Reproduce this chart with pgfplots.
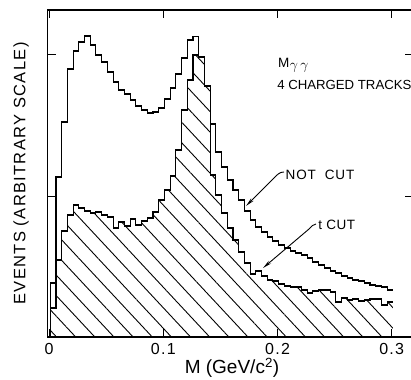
\documentclass[border=0pt]{standalone}
\usepackage{pgfplots}
\pgfplotsset{compat=1.18}
\usepackage{fontspec}
\setmainfont{Liberation Sans}
\usetikzlibrary{patterns.meta,arrows.meta}

\begin{document}
\begin{tikzpicture}
\begin{axis}[
  at={(47.5pt,42pt)}, anchor=south west,
  scale only axis, width=365pt, height=327pt,
  xmin=-0.0014, xmax=0.3182, ymin=0, ymax=327,
  axis line style={line width=1.6pt},
  tick align=inside, major tick length=8pt,
  tick style={line width=1pt, black},
  xtick={0,0.1,0.2,0.3}, xticklabels={0,0.1,0.2,0.3},
  ytick={140,282}, yticklabels={},
  xticklabel style={anchor=base, yshift=-17pt,
    font=\fontsize{16}{18}\selectfont\addfontfeatures{LetterSpace=8}},
  xlabel={M (GeV/c\textsuperscript{2})},
  xlabel style={at={(axis description cs:0.5055,-0.1116)}, anchor=base,
    font=\fontsize{19}{21}\selectfont},
  ylabel={EVENTS (ARBITRARY SCALE)},
  ylabel style={at={(axis description cs:-0.0726,0.5)}, anchor=center,
    font=\fontsize{16.5}{18}\selectfont\addfontfeatures{LetterSpace=8}},
  clip=false,
]
% hatched area under t CUT
\addplot[const plot, draw=none,
  pattern={Lines[angle=-47,distance=14pt,line width=0.9pt]}, pattern color=black]
coordinates {
(0.001,29) (0.006,77) (0.011,106) (0.016,122) (0.021,132) (0.026,129) (0.031,126)
(0.036,124) (0.041,125) (0.046,122) (0.051,120) (0.056,109) (0.061,115) (0.066,111)
(0.071,118) (0.076,112) (0.081,116) (0.086,119) (0.091,125) (0.096,137) (0.101,147)
(0.106,161) (0.111,187) (0.116,227) (0.121,257) (0.126,282) (0.131,280) (0.136,251)
(0.141,162) (0.146,142) (0.151,124) (0.156,109) (0.161,97) (0.166,85) (0.171,74)
(0.176,63) (0.181,66) (0.186,61) (0.191,57) (0.196,56) (0.201,53) (0.206,51)
(0.211,50) (0.216,50) (0.221,47) (0.226,44) (0.231,46) (0.236,47) (0.241,47)
(0.246,45) (0.251,35) (0.256,39) (0.261,37) (0.266,38) (0.271,36) (0.276,37)
(0.281,38) (0.286,38) (0.291,32) (0.296,35) (0.301,35)
} \closedcycle;
% t CUT outline
\addplot[const plot, line width=1.1pt, black]
coordinates {
(0.001,0)
(0.001,29) (0.006,77) (0.011,106) (0.016,122) (0.021,132) (0.026,129) (0.031,126)
(0.036,124) (0.041,125) (0.046,122) (0.051,120) (0.056,109) (0.061,115) (0.066,111)
(0.071,118) (0.076,112) (0.081,116) (0.086,119) (0.091,125) (0.096,137) (0.101,147)
(0.106,161) (0.111,187) (0.116,227) (0.121,257) (0.126,282) (0.131,280) (0.136,251)
(0.141,162) (0.146,142) (0.151,124) (0.156,109) (0.161,97) (0.166,85) (0.171,74)
(0.176,63) (0.181,66) (0.186,61) (0.191,57) (0.196,56) (0.201,53) (0.206,51)
(0.211,50) (0.216,50) (0.221,47) (0.226,44) (0.231,46) (0.236,47) (0.241,47)
(0.246,45) (0.251,35) (0.256,39) (0.261,37) (0.266,38) (0.271,36) (0.276,37)
(0.281,38) (0.286,38) (0.291,32) (0.296,35) (0.301,35)
};
% NOT CUT
\addplot[const plot, line width=1.1pt, black]
coordinates {
(0.001,0)
(0.001,54) (0.006,160) (0.011,215) (0.016,268) (0.021,286) (0.026,295) (0.031,301)
(0.036,292) (0.041,282) (0.046,275) (0.051,265) (0.056,255) (0.061,247) (0.066,243)
(0.071,237) (0.076,231) (0.081,227) (0.086,224) (0.091,225) (0.096,229) (0.101,238)
(0.106,249) (0.111,263) (0.116,279) (0.121,297) (0.126,300.5) (0.131,280) (0.136,251)
(0.141,213) (0.146,185) (0.151,170) (0.156,157) (0.161,147) (0.166,137) (0.171,126)
(0.176,117) (0.181,110) (0.186,105) (0.191,100) (0.196,96) (0.201,92) (0.206,89)
(0.211,86) (0.216,84) (0.221,82) (0.226,79) (0.231,75) (0.236,72) (0.241,69)
(0.246,66) (0.251,64) (0.256,61) (0.261,59) (0.266,57) (0.271,56) (0.276,54)
(0.281,52) (0.286,51) (0.291,50) (0.296,47) (0.301,47)
};
% annotations
\node[anchor=base west, font=\fontsize{13.5}{15}\selectfont, inner sep=0pt]
  at (axis cs:0.2004,269) {M\kern0.5pt\raisebox{-1.5pt}{$\gamma\,\gamma$}};
\node[anchor=base west, font=\fontsize{13.2}{15}\selectfont, inner sep=0pt]
  at (axis cs:0.1996,247) {4 CHARGED TRACKS};
\node[anchor=base west, font=\fontsize{13.5}{15}\selectfont\addfontfeatures{LetterSpace=6}, inner sep=0pt]
  at (axis cs:0.2070,157) {NOT\ \ CUT};
\node[anchor=base west, font=\fontsize{13.5}{15}\selectfont\addfontfeatures{LetterSpace=4}, inner sep=0pt]
  at (axis cs:0.2355,107) {t CUT};
\draw[line width=0.9pt, -{Stealth[length=9pt,width=3.5pt]}]
  (axis cs:0.2057,165) to[out=180,in=45] (axis cs:0.1969,159) -- (axis cs:0.1724,131);
\draw[line width=0.9pt, -{Stealth[length=9pt,width=3.5pt]}]
  (axis cs:0.2337,113) to[out=180,in=40] (axis cs:0.2276,108) -- (axis cs:0.1873,69);
\end{axis}
\pgfresetboundingbox
\path[use as bounding box] (0,0) rectangle (411pt,379pt);
\end{tikzpicture}
\end{document}
